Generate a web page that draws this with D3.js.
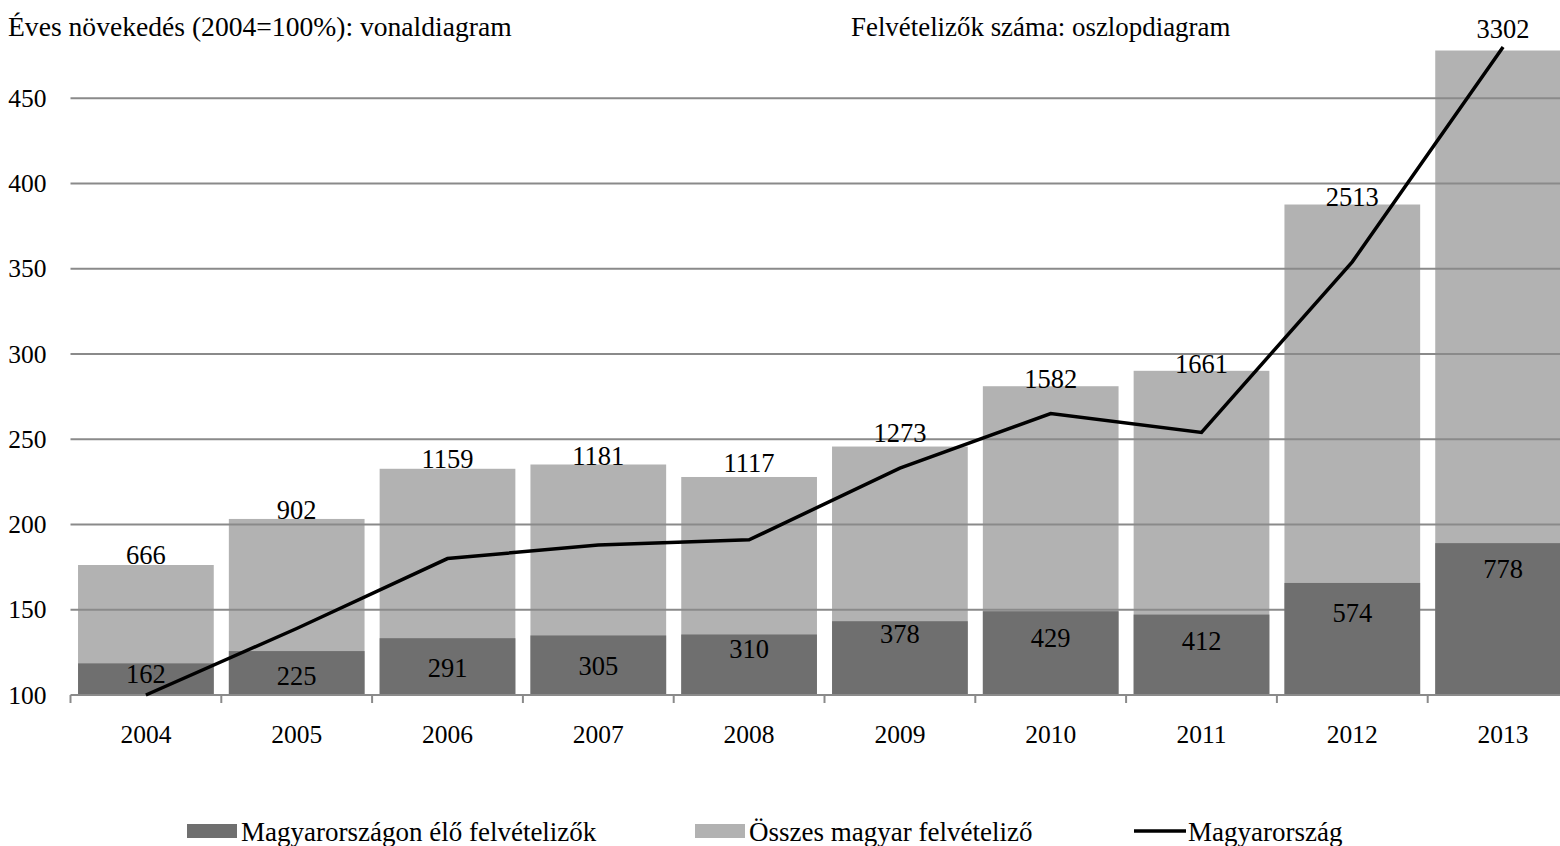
<!DOCTYPE html>
<html>
<head>
<meta charset="utf-8">
<script src="https://cdn.jsdelivr.net/npm/d3@7"></script>
<style>
  body { margin: 0; background: #fff; }
  svg { display: block; font-family: "Liberation Serif", "Times New Roman", serif; }
</style>
</head>
<body>
<svg id="chart" width="1560" height="846"></svg>
<script>
const years = ["2004", "2005", "2006", "2007", "2008", "2009", "2010", "2011", "2012", "2013"];
// felvételizők száma (bars)
const hungaryApplicants = [162, 225, 291, 305, 310, 378, 429, 412, 574, 778];
const allApplicants = [666, 902, 1159, 1181, 1117, 1273, 1582, 1661, 2513, 3302];
// éves növekedés, 2004 = 100% (line)
const growth = [100, 139, 180, 188, 191, 233, 265, 254, 354, 480];
const yTicks = [100, 150, 200, 250, 300, 350, 400, 450];

// hand-placed label nudges (px), like in the original sheet
const topLabelDy = [-10, -9, -10, -9, -14, -14, -7, -7, -8, -22];
const innerLabelDy = [10, 25, 30, 30, 14, 13, 26, 26, 30, 26];

const width = 1560;
const height = 846;
const plot = {left: 70.5, right: 1578.5, top: 47, bottom: 695};

const svg = d3.select("#chart");

const x = d3.scaleBand()
    .domain(years)
    .range([plot.left, plot.right])
    .paddingInner(0.1)
    .paddingOuter(0.05);

// primary axis: growth in %
const y = d3.scaleLinear()
    .domain([100, 480])
    .range([plot.bottom, plot.top]);

// hidden secondary axis: number of applicants
const y2 = d3.scaleLinear()
    .domain([0, 3320])
    .range([plot.bottom, plot.top]);

const rows = years.map((yr, i) => ({
    year: yr,
    hu: hungaryApplicants[i],
    all: allApplicants[i],
    growth: growth[i],
    topDy: topLabelDy[i],
    inDy: innerLabelDy[i]
}));

// light bars (all Hungarian applicants)
svg.append("g")
    .selectAll("rect")
    .data(rows)
    .join("rect")
    .attr("x", d => x(d.year))
    .attr("y", d => y2(d.all))
    .attr("width", x.bandwidth())
    .attr("height", d => plot.bottom - y2(d.all))
    .attr("fill", "#b2b2b2");

// gridlines
svg.append("g")
    .selectAll("line")
    .data(yTicks.slice(1))
    .join("line")
    .attr("x1", plot.left)
    .attr("x2", width)
    .attr("y1", d => y(d))
    .attr("y2", d => y(d))
    .attr("stroke", "#8a8a8a")
    .attr("stroke-width", 2);

// dark bars (living in Hungary)
svg.append("g")
    .selectAll("rect")
    .data(rows)
    .join("rect")
    .attr("x", d => x(d.year))
    .attr("y", d => y2(d.hu))
    .attr("width", x.bandwidth())
    .attr("height", d => plot.bottom - y2(d.hu))
    .attr("fill", "#6f6f6f");

// x axis
const xAxis = d3.axisBottom(x).tickSize(0).tickPadding(30);
const gx = svg.append("g")
    .attr("transform", `translate(0,${plot.bottom})`)
    .call(xAxis);
gx.select(".domain").remove();
gx.selectAll("text")
    .attr("font-size", 25.5)
    .attr("font-family", "Liberation Serif, Times New Roman, serif")
    .attr("fill", "#000");

svg.append("line")
    .attr("x1", plot.left)
    .attr("x2", width)
    .attr("y1", plot.bottom)
    .attr("y2", plot.bottom)
    .attr("stroke", "#8a8a8a")
    .attr("stroke-width", 2);

const half = x.step() * x.paddingInner() / 2;
svg.append("g")
    .selectAll("line")
    .data(years)
    .join("line")
    .attr("x1", d => x(d) - half)
    .attr("x2", d => x(d) - half)
    .attr("y1", plot.bottom)
    .attr("y2", plot.bottom + 8)
    .attr("stroke", "#8a8a8a")
    .attr("stroke-width", 2);

// y axis labels
const yAxis = d3.axisLeft(y).tickValues(yTicks).tickSize(0).tickPadding(24);
const gy = svg.append("g")
    .attr("transform", `translate(${plot.left},0)`)
    .call(yAxis);
gy.select(".domain").remove();
gy.selectAll("text")
    .attr("font-size", 25.5)
    .attr("font-family", "Liberation Serif, Times New Roman, serif")
    .attr("fill", "#000");

// growth line
const line = d3.line()
    .x(d => x(d.year) + x.bandwidth() / 2)
    .y(d => y(d.growth));

svg.append("path")
    .datum(rows)
    .attr("d", line)
    .attr("fill", "none")
    .attr("stroke", "#000")
    .attr("stroke-width", 3.5);

// value labels
svg.append("g")
    .selectAll("text")
    .data(rows)
    .join("text")
    .attr("x", d => x(d.year) + x.bandwidth() / 2)
    .attr("y", d => y2(d.all) + d.topDy)
    .attr("dy", "0.35em")
    .attr("text-anchor", "middle")
    .attr("font-size", 26.5)
    .text(d => d.all);

svg.append("g")
    .selectAll("text")
    .data(rows)
    .join("text")
    .attr("x", d => x(d.year) + x.bandwidth() / 2)
    .attr("y", d => y2(d.hu) + d.inDy)
    .attr("dy", "0.35em")
    .attr("text-anchor", "middle")
    .attr("font-size", 26.5)
    .text(d => d.hu);

// headers
svg.append("text")
    .attr("x", 8)
    .attr("y", 36)
    .attr("font-size", 27.6)
    .text("Éves növekedés (2004=100%): vonaldiagram");

svg.append("text")
    .attr("x", 851)
    .attr("y", 36)
    .attr("font-size", 26.9)
    .text("Felvételizők száma: oszlopdiagram");

// legend
const legendY = 831;
const legend = svg.append("g").attr("font-size", 27);

legend.append("rect")
    .attr("x", 187).attr("y", legendY - 7)
    .attr("width", 50).attr("height", 14)
    .attr("fill", "#6f6f6f");
legend.append("text")
    .attr("x", 241).attr("y", legendY + 10)
    .text("Magyarországon élő felvételizők");

legend.append("rect")
    .attr("x", 695).attr("y", legendY - 7)
    .attr("width", 50).attr("height", 14)
    .attr("fill", "#b2b2b2");
legend.append("text")
    .attr("x", 749).attr("y", legendY + 10)
    .text("Összes magyar felvételiző");

legend.append("line")
    .attr("x1", 1134).attr("x2", 1186)
    .attr("y1", legendY).attr("y2", legendY)
    .attr("stroke", "#000")
    .attr("stroke-width", 3.5);
legend.append("text")
    .attr("x", 1188).attr("y", legendY + 10)
    .text("Magyarország");
</script>
</body>
</html>
